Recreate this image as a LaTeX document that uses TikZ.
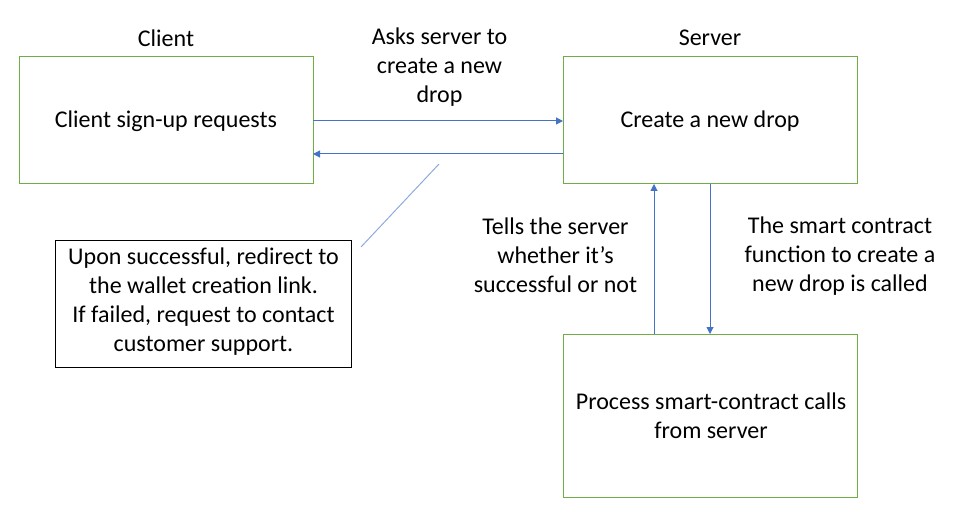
\documentclass[tikz,border=0pt]{standalone}
\usepackage{fontspec}
\setmainfont{Carlito}
\usetikzlibrary{arrows.meta}
\definecolor{boxgreen}{RGB}{112,173,71}
\definecolor{arrblue}{RGB}{68,114,196}
\definecolor{lineblue}{RGB}{143,170,220}
\begin{document}
\begin{tikzpicture}[x=1pt,y=-1pt,
  greenbox/.style={draw=boxgreen,line width=1pt,inner sep=0pt},
  blackbox/.style={draw=black,line width=1pt,inner sep=0pt},
  txt/.style={font=\fontsize{24}{29}\selectfont,align=center,inner sep=0pt},
  arr/.style={draw=arrblue,line width=1pt,-{Triangle[length=7pt,width=7pt]}}]
\useasboundingbox (0,0) rectangle (955,521);
\draw[greenbox] (19,57) rectangle (313,184);
\draw[greenbox] (563,57) rectangle (857,184);
\draw[greenbox] (563,334) rectangle (857,497);
\draw[blackbox] (55,241) rectangle (351,367);
\coordinate (cR1) at (313,121);
\coordinate (sL1) at (563,121);
\coordinate (cR2) at (313,154);
\coordinate (sL2) at (563,154);
\coordinate (sB1) at (654,184);
\coordinate (pT1) at (654,334);
\coordinate (sB2) at (710,184);
\coordinate (pT2) at (710,334);
\coordinate (l1) at (361,247);
\coordinate (l2) at (439,164);
\node[txt] (clientlbl) at (166,38) {Client};
\node[txt] (serverlbl) at (710,38) {Server};
\node[txt] (client) at (166,121) {Client sign-up requests};
\node[txt] (server) at (710,121) {Create a new drop};
\node[txt] (proc) at (711,416) {Process smart-contract calls\\from server};
\node[txt] (note) at (203.5,302) {Upon successful, redirect to\\the wallet creation link.\\If failed, request to contact\\customer support.};
\node[txt] (asks) at (439.5,67) {Asks server to\\create a new\\drop};
\node[txt] (tells) at (555.5,255) {Tells the server\\whether it’s\\successful or not};
\node[txt] (smart) at (840,256) {The smart contract\\function to create a\\new drop is called};
\draw[arr] (cR1) -- (sL1);
\draw[arr] (sL2) -- (cR2);
\draw[arr] (pT1) -- (sB1);
\draw[arr] (sB2) -- (pT2);
\draw[lineblue,line width=1pt] (l1) -- (l2);
\end{tikzpicture}
\end{document}
